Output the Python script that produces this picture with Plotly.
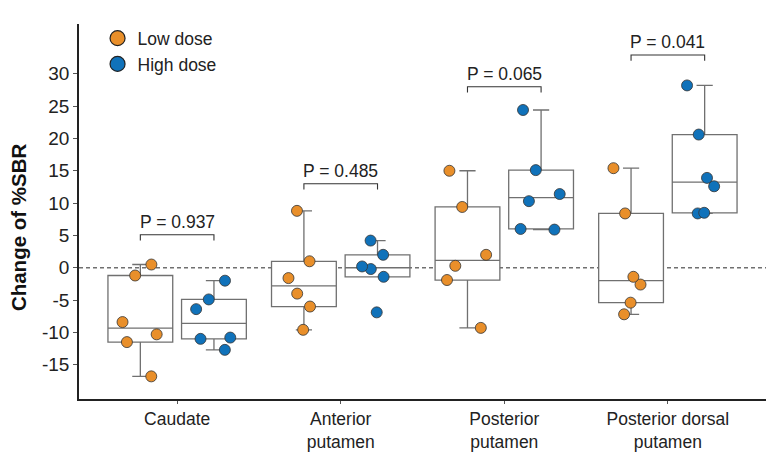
import plotly.graph_objects as go

categories = ["Caudate", "Anterior<br>putamen", "Posterior<br>putamen", "Posterior dorsal<br>putamen"]

# change of %SBR per subject
low_dose = [
    [0.5, -1.2, -8.4, -10.3, -11.5, -16.8],
    [8.8, 1.0, -1.6, -4.0, -6.0, -9.6],
    [15.0, 9.4, 2.0, 0.3, -1.9, -9.3],
    [15.4, 8.4, -1.4, -2.6, -5.4, -7.2],
]
high_dose = [
    [-2.0, -4.9, -6.4, -10.8, -11.0, -12.7],
    [4.2, 2.0, 0.2, -0.2, -1.4, -6.9],
    [24.4, 15.1, 11.4, 10.3, 6.0, 5.9],
    [28.2, 20.6, 13.9, 12.6, 8.5, 8.4],
]
p_values = ["0.937", "0.485", "0.065", "0.041"]
bracket_y = [5.1, 13.0, 28.0, 32.9]
y_ticks = [-15, -10, -5, 0, 5, 10, 15, 20, 25, 30]

ORANGE = "#E98F2A"
BLUE = "#1072BA"
BOXGAP = 0.1

fig = go.Figure()

for name, groups, color in [("Low dose", low_dose, ORANGE), ("High dose", high_dose, BLUE)]:
    xs = [cat for cat, vals in zip(categories, groups) for _ in vals]
    ys = [v for vals in groups for v in vals]
    fig.add_trace(
        go.Box(
            x=xs, y=ys, name=name,
            boxpoints="all", jitter=0.65, pointpos=0,
            quartilemethod="exclusive",
            fillcolor="white",
            line=dict(color="#707070", width=1.3),
            whiskerwidth=0.25,
            marker=dict(color=color, size=11, line=dict(color="#333333", width=0.8)),
            showlegend=False,
        )
    )
    # legend entry drawn as a plain circle
    fig.add_trace(
        go.Scatter(
            x=[None], y=[None], mode="markers", name=name,
            marker=dict(color=color, size=15, line=dict(color="#222222", width=1.2)),
        )
    )

# zero reference
fig.add_hline(y=0, line=dict(color="#707070", width=1.3, dash="4px,3px"), layer="below")

# significance brackets
off = (1 - BOXGAP) / 4
for i, (p, yb) in enumerate(zip(p_values, bracket_y)):
    x0, x1 = i - off, i + off
    fig.add_shape(
        type="path",
        path=f"M {x0},{yb - 0.9} L {x0},{yb} L {x1},{yb} L {x1},{yb - 0.9}",
        line=dict(color="#333333", width=1.1),
    )
    fig.add_annotation(
        x=i, y=yb, text=f"P = {p}", showarrow=False,
        yanchor="bottom", yshift=1, font=dict(size=17.5, color="#222222"),
    )

fig.add_annotation(
    text="<b>Change of %SBR</b>", textangle=-90,
    xref="paper", yref="paper", x=-0.087, y=0.459,
    xanchor="center", yanchor="middle", showarrow=False,
    font=dict(size=20.5, color="#111111"),
)

# page body has an 8px margin, so the figure is sized to fit inside the window
fig.update_layout(
    width=776, height=460,
    margin=dict(l=71, r=18, t=14, b=69),
    paper_bgcolor="#FFFFFF",
    plot_bgcolor="#FFFFFF",
    font=dict(family="Liberation Sans, Arial, sans-serif", color="#222222"),
    boxmode="group", boxgap=BOXGAP, boxgroupgap=0.12,
    legend=dict(
        x=0.027, y=1.01, xanchor="left", yanchor="top",
        font=dict(size=17.5, color="#222222"), bgcolor="rgba(0,0,0,0)",
    ),
    xaxis=dict(
        range=[-0.6, 3.6], showline=True, linecolor="#222222", linewidth=1.5,
        ticks="outside", ticklen=3, tickcolor="#555555",
        tickfont=dict(size=17.5, color="#222222"), showgrid=False, zeroline=False,
    ),
    yaxis=dict(
        range=[-20.3, 37.7], tickvals=y_ticks, ticktext=[str(v) for v in y_ticks],
        showline=True, linecolor="#222222",
        linewidth=1.5, ticks="outside", ticklen=4, tickcolor="#555555",
        tickfont=dict(size=19, color="#222222"), showgrid=False, zeroline=False,
    ),
)

fig.write_html("out.html")
